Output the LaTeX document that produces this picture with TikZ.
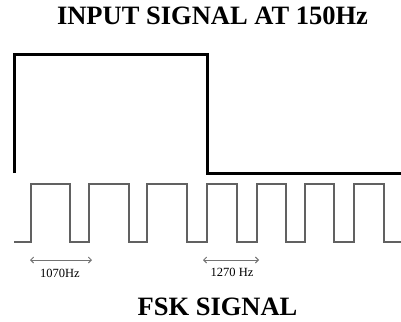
\documentclass[tikz,border=0pt]{standalone}
\usepackage{fontspec}
\setmainfont{Liberation Serif}
\usetikzlibrary{arrows.meta}
\begin{document}
\begin{tikzpicture}[x=1pt,y=-1pt,
  titletext/.style={font=\fontsize{26.5}{30}\selectfont\bfseries, inner sep=0pt, anchor=base},
  freqtext/.style={font=\fontsize{12.5}{14}\selectfont, inner sep=0pt},
  inputsig/.style={line width=3pt, black, line join=miter},
  fsksig/.style={line width=1.4pt, black!62, line join=miter},
  spanarrow/.style={{Straight Barb[length=3pt,width=6pt]}-{Straight Barb[length=3pt,width=6pt]}, line width=0.9pt, black!55}]
\useasboundingbox (0,0) rectangle (401,321);
\fill[white] (0,0) rectangle (401,321);
\node[titletext] (title) at (212.5,25) {INPUT SIGNAL AT 150Hz};
\draw[inputsig] (14,173) -- (14,55) -- (207,55) -- (207,173) -- (401,173);
\draw[fsksig] (14,242) -- (31,242) -- (31,184) -- (70,184) -- (70,242) -- (89,242) -- (89,184) -- (129,184) -- (129,242) -- (147,242) -- (147,184) -- (187,184) -- (187,242) -- (207,242)
  -- (207,184) -- (237,184) -- (237,242) -- (257,242) -- (257,184) -- (286,184) -- (286,242) -- (305,242) -- (305,184) -- (334,184) -- (334,242) -- (354,242) -- (354,184) -- (384,184) -- (384,242) -- (401,242);
\coordinate (a1s) at (30,260);
\coordinate (a1e) at (92,260);
\coordinate (a2s) at (203,260);
\coordinate (a2e) at (259,260);
\draw[spanarrow] (a1s) -- (a1e);
\draw[spanarrow] (a2s) -- (a2e);
\node[freqtext] (f1) at (60,273) {1070Hz};
\node[freqtext] (f2) at (232,272.5) {1270 Hz};
\node[titletext] (fsk) at (217.5,315) {FSK SIGNAL};
\end{tikzpicture}
\end{document}
